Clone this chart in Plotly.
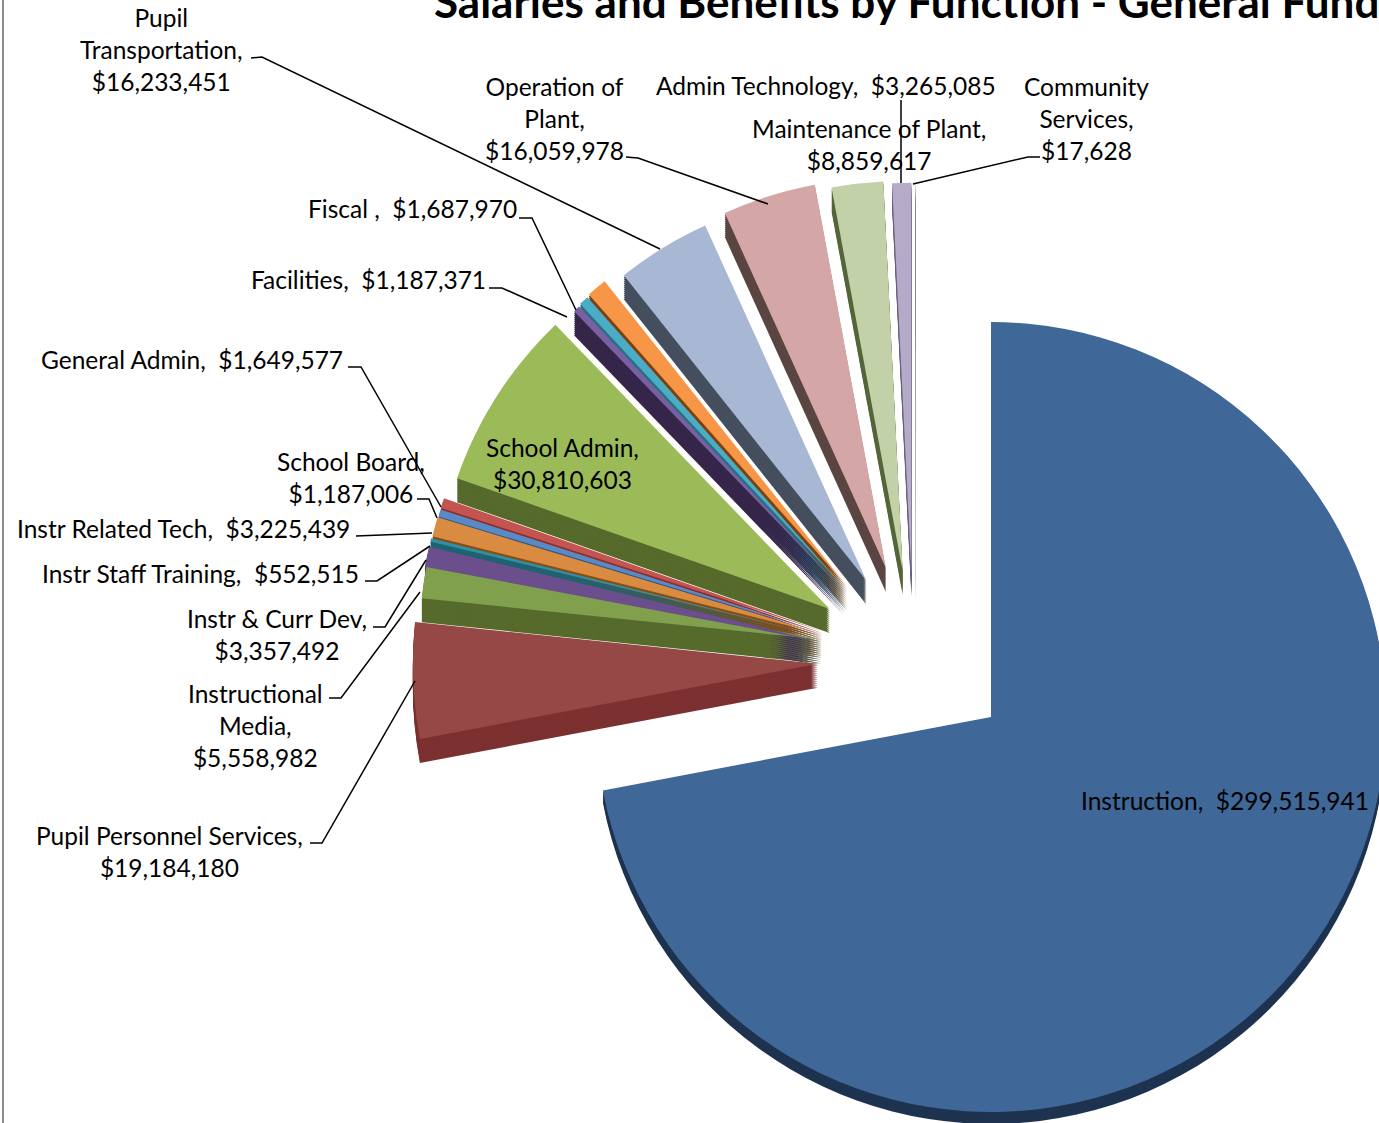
import plotly.graph_objects as go

categories = ["Instruction", "Pupil Personnel Services", "Instructional Media", "Instr & Curr Dev",
              "Instr Staff Training", "Instr Related Tech", "School Board", "General Admin",
              "School Admin", "Facilities", "Fiscal", "(unlabelled)", "Pupil Transportation",
              "Operation of Plant", "Maintenance of Plant", "Admin Technology", "Community Services"]
values = [299515941, 19184180, 5558982, 3357492, 552515, 3225439, 1187006, 1649577,
          30810603, 1187371, 1687970, 3500000, 16233451, 16059978, 8859617, 3265085, 17628]

label_texts = ["Instruction,\u00a0 $299,515,941", "Pupil Personnel Services,<br>$19,184,180",
               "Instructional<br>Media,<br>$5,558,982", "Instr & Curr Dev,<br>$3,357,492",
               "Instr Staff Training,\u00a0 $552,515", "Instr Related Tech,\u00a0 $3,225,439",
               "School Board,<br>$1,187,006", "General Admin,\u00a0 $1,649,577",
               "School Admin,<br>$30,810,603", "Facilities,\u00a0 $1,187,371",
               "Fiscal ,\u00a0 $1,687,970", "Pupil<br>Transportation,<br>$16,233,451",
               "Operation of<br>Plant,<br>$16,059,978", "Maintenance of Plant,<br>$8,859,617",
               "Admin Technology,\u00a0 $3,265,085", "Community<br>Services,<br>$17,628"]
title_text = "Salaries and Benefits by Function - General Fund"

# ---- styling and layout below ----
top_colors = ["#3F6797", "#954846", "#80A04E", "#6A4F8C", "#2E90A6", "#D98B42", "#5A8AC6", "#C4544F",
              "#9BBB59", "#7B5FA3", "#4BACC6", "#F79646", "#A7B7D4", "#D4A7A6", "#C3D1A8", "#B5ABC9", "#8F88A0"]
wall_colors = ["#1D3350", "#7C3030", "#566A2C", "#46305F", "#1F6272", "#8A4E12", "#33557F", "#8A2F2C",
               "#566A2C", "#35264A", "#2A6F82", "#7A4210", "#454F5E", "#5B4644", "#55663A", "#6A6380", "#555555"]
# per-slice placement and radius, standing in for the 3-D perspective of the original
slice_shift = [(0, 7), (10, -54), (12, -44), (8, -30), (8, -30), (8, -27), (7, -22), (6, -20),
               (-7, -2), (-20, 15), (-22, 15), (-26, 17), (-29, 27), (-50, 33), (-67, 43), (-75, 46), (-75, 46)]
slice_radius = [395, 405, 402, 402, 402, 402, 402, 402, 395, 390, 390, 390, 390, 390, 390, 390, 390]
label_pos = [(1225, 800), (169, 851), (255, 725), (277, 634), (200, 574), (183, 528), (351, 477), (192, 360),
             (562, 463), (368, 280), (412, 209), (161, 49), (554, 119), (869, 145), (826, 86), (1086, 119)]
leaders = [[(251, 58), (262, 57), (660, 249)], [(626, 157), (638, 158), (768, 204)], [(901, 100), (901, 183)],
           [(1040, 157), (1028, 157), (913, 184)], [(519, 218), (532, 218), (576, 310)],
           [(489, 288), (502, 288), (567, 317)], [(348, 367), (361, 367), (441, 507)],
           [(417, 499), (429, 499), (437, 518)], [(356, 536), (432, 533)],
           [(365, 581), (377, 581), (430, 546)], [(373, 627), (385, 627), (426, 560)],
           [(329, 698), (341, 698), (420, 592)], [(310, 843), (322, 843), (415, 681)]]

W, H = 1800, 1400
CX, CY, PULL_PX = 991, 710, 183.3
FONT = "Lato, Carlito, Calibri, sans-serif"
px = lambda x: x / W
py = lambda y: 1 - y / H
total = sum(values)


def slice_pie(i, depth, color):
    r = slice_radius[i]
    pull = 0 if i == 0 else PULL_PX / r
    half = r * (1 + pull)
    dx, dy = slice_shift[i]
    cx, cy = CX + dx, CY + dy + depth
    start = sum(values[:i]) / total * 360
    return go.Pie(labels=[categories[i], "rest"], values=[values[i], total - values[i]], sort=False,
                  direction="clockwise", rotation=start, pull=[pull, 0], textinfo="none",
                  hoverinfo="skip", showlegend=False,
                  marker=dict(colors=[color, "rgba(0,0,0,0)"], line=dict(width=0)),
                  domain=dict(x=[px(cx - half), px(cx + half)], y=[py(cy + half), py(cy - half)]))


fig = go.Figure()
for d in range(24, 0, -2):
    for i in range(len(values)):
        if i == 0 and d > 12:
            continue
        fig.add_trace(slice_pie(i, d, wall_colors[i]))
for i in range(len(values)):
    fig.add_trace(slice_pie(i, 0, top_colors[i]))

shapes = [dict(type="line", xref="paper", yref="paper", x0=px(3), x1=px(3), y0=py(0), y1=py(1123),
               line=dict(color="#8C8C8C", width=2))]
for pts in leaders:
    path = "M " + " L ".join(f"{px(x)} {py(y)}" for x, y in pts)
    shapes.append(dict(type="path", xref="paper", yref="paper", path=path, line=dict(color="black", width=1.5)))

annotations = [dict(text=t, x=px(x), y=py(y), xref="paper", yref="paper", xanchor="center", yanchor="middle",
                    showarrow=False, font=dict(family=FONT, size=24.5, color="black"))
               for t, (x, y) in zip(label_texts, label_pos)]
annotations.append(dict(text=f"<b>{title_text}</b>", x=px(432), y=py(1), xref="paper", yref="paper",
                        xanchor="left", yanchor="middle", showarrow=False,
                        font=dict(family=FONT, size=44, color="black")))

fig.update_layout(width=W, height=H, margin=dict(l=0, r=0, t=0, b=0), paper_bgcolor="white",
                  plot_bgcolor="white", shapes=shapes, annotations=annotations)
fig.write_html("out.html", post_script=(
    "document.documentElement.style.overflow='hidden';document.body.style.overflow='hidden';"
    "document.body.style.margin='0';"))
